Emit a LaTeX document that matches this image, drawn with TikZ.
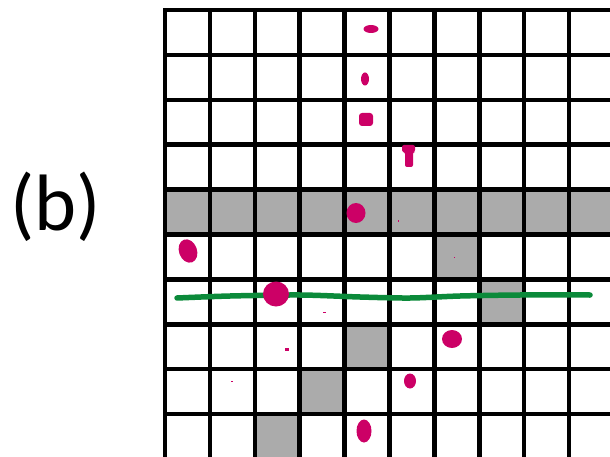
\documentclass[tikz,border=0pt]{standalone}
\usepackage{fontspec}
\setmainfont{Carlito}
\usepackage{tikz}
\definecolor{dotred}{HTML}{CC0066}
\definecolor{trackgreen}{HTML}{0B8A3A}
\definecolor{cellshade}{HTML}{ABABAB}

\begin{document}
\begin{tikzpicture}[x=1pt, y=-1pt]
\useasboundingbox (0,0) rectangle (610,457);
\clip (0,0) rectangle (610,457);
\node[anchor=base, font=\fontsize{80}{86}\selectfont] (panel) at (56,230) {(b)};
% shaded cells
\foreach \c in {0,...,9}
  \fill[cellshade] ({165+44.9*\c},{10+44.9*4}) rectangle +(44.9,44.9);
\foreach \c/\r in {6/5, 7/6, 4/7, 3/8, 2/9}
  \fill[cellshade] ({165+44.9*\c},{10+44.9*\r}) rectangle +(44.9,44.9);
% grid
\foreach \i in {0,...,10} {
  \draw[line width=4.5pt, line cap=rect] ({165+44.9*\i},10) -- ({165+44.9*\i},470);
  \draw[line width=4.5pt, line cap=rect] (165,{10+44.9*\i}) -- (625,{10+44.9*\i});
}
% green line
\draw[trackgreen, line width=5.5pt, line cap=round]
  plot[smooth] coordinates {(177,298) (230,296) (300,295) (360,297) (410,298) (460,296) (520,295) (590,295)};
% blots
\fill[dotred] (371,29) ellipse [x radius=7.5, y radius=4];
\fill[dotred] (365,79) ellipse [x radius=4, y radius=6.5];
\fill[dotred, rounded corners=3pt] (359,113) rectangle (373,126);
\fill[dotred, rounded corners=2pt] (402,145) -- (415,145) -- (415,152) -- (413,152) -- (413,167)
  -- (405,167) -- (405,152) -- (402,152) -- cycle;
\fill[dotred] (356,213) ellipse [x radius=9.5, y radius=10];
\fill[dotred, rotate around={20:(188,251)}] (188,251) ellipse [x radius=9, y radius=12];
\fill[dotred] (276,294) ellipse [x radius=13, y radius=12.5];
\fill[dotred] (452,339) ellipse [x radius=10, y radius=9];
\fill[dotred] (410,381) ellipse [x radius=6, y radius=7.5];
\fill[dotred] (364,431) ellipse [x radius=7.5, y radius=11.5];
% specks
\fill[dotred] (398,220) rectangle +(1,2);
\fill[dotred] (454,257) rectangle +(1,1);
\fill[dotred] (323,312) rectangle +(3,1);
\fill[dotred] (285,348) rectangle +(4,3);
\fill[dotred] (231,381) rectangle +(2,1);
\end{tikzpicture}
\end{document}
